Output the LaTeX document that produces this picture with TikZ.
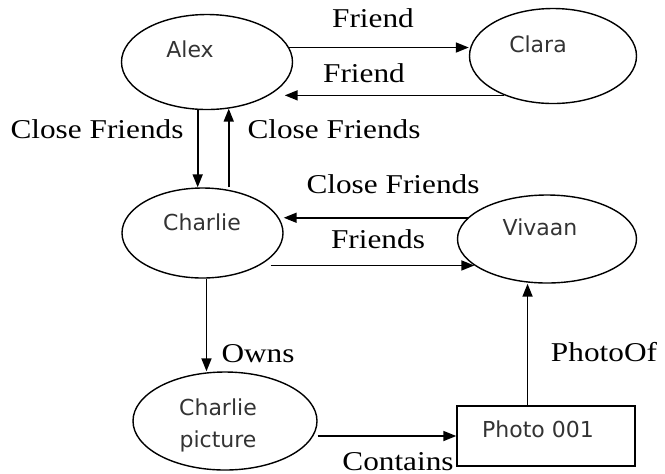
\documentclass[tikz,border=0pt]{standalone}
\usepackage{fontspec}
\setmainfont{Liberation Serif}[FakeStretch=1.15]
\newfontfamily\nodefont{DejaVu Sans}
\usetikzlibrary{arrows.meta,shapes.geometric}

\begin{document}
\begin{tikzpicture}[>={Triangle[length=6.5pt,width=5pt]}, x=0.5pt, y=-0.5pt,
		person/.style={draw, ellipse, line width=0.7pt, inner sep=0pt},
		photobox/.style={draw, rectangle, line width=0.7pt, inner sep=0pt},
		nodetext/.style={anchor=base, font=\nodefont\fontsize{11}{16}\selectfont, text=black!80},
		rel/.style={anchor=base, font=\fontsize{13.6}{16}\selectfont},
		link/.style={->, line width=0.85pt}]
		\useasboundingbox (0,0) rectangle (665,473);
		% shapes
		\node[person, minimum width=85.5pt, minimum height=47.5pt] (alex) at (207,62) {};
		\node[person, minimum width=83.5pt, minimum height=47.5pt] (clara) at (553,56) {};
		\node[person, minimum width=80.5pt, minimum height=45pt] (charlie) at (202.5,233) {};
		\node[person, minimum width=89.5pt, minimum height=44pt] (vivaan) at (547,239) {};
		\node[person, minimum width=92pt, minimum height=49pt] (charliepic) at (225,421) {};
		\node[photobox, minimum width=89pt, minimum height=30pt] (photo) at (546,436) {};
		% texts in the shapes
		\node[nodetext] (alextext) at (190,57) {Alex};
		\node[nodetext] (claratext) at (538,52) {Clara};
		\node[nodetext] (charlietext) at (202,230) {Charlie};
		\node[nodetext] (vivaantext) at (540,235) {Vivaan};
		\node[nodetext, align=center] (charliepictext) at (218,447) {Charlie\\picture};
		\node[nodetext] (phototext) at (538,437) {Photo 001};
		% links
		\draw[link] (alex.10) -- (alex.10 -| clara.west);
		\draw[link] (clara.219) -- (clara.219 -| alex.345);
		\draw[link] (alex.259) -- (alex.259 |- charlie.north);
		\draw[link] (alex.295 |- charlie.north) -- (alex.295);
		\draw[link] (vivaan.165) -- (vivaan.165 -| charlie.east);
		\draw[link] (charlie.340 |- vivaan.200) -- (vivaan.200);
		\draw[link] (charlie.275) -- (charlie.275 |- charliepic.north);
		\draw[link] (charliepic.east |- photo.west) -- (photo.west);
		\draw[link] (photo.121) -- (photo.121 |- vivaan.south);
		% labels
		\node[rel] (friendout) at (373,27) {Friend};
		\node[rel] (friendback) at (364,82) {Friend};
		\node[rel] (closedown) at (97,138) {Close Friends};
		\node[rel] (closeup) at (334,138) {Close Friends};
		\node[rel] (closeback) at (393,193) {Close Friends};
		\node[rel] (friendsto) at (378,248) {Friends};
		\node[rel] (owns) at (258,362) {Owns};
		\node[rel] (contains) at (398,470) {Contains};
		\node[rel] (photoof) at (604,361) {PhotoOf};
	\end{tikzpicture}
\end{document}
